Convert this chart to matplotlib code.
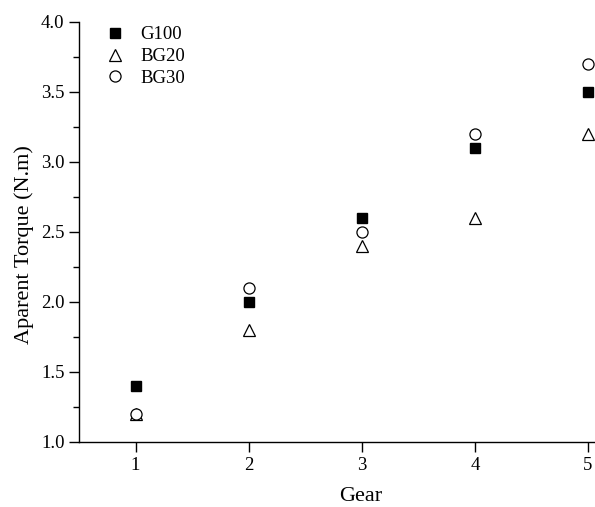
import numpy as np
import matplotlib
matplotlib.use("Agg")
import matplotlib.pyplot as plt
from matplotlib.ticker import MultipleLocator

plt.rcParams['font.family'] = ['Liberation Serif', 'DejaVu Serif']

gears = [1, 2, 3, 4, 5]
g100 = [1.4, 2.0, 2.6, 3.1, 3.5]
bg20 = [1.2, 1.8, 2.4, 2.6, 3.2]
bg30 = [1.2, 2.1, 2.5, 3.2, 3.7]

fig = plt.figure(figsize=(5.95, 5.07), dpi=100)
ax = fig.add_axes([79 / 595, 65 / 507, 1 - 79 / 595, 420 / 507])

ax.plot(gears, g100, 's', color='black', markersize=7, label='G100', clip_on=False)
ax.plot(gears, bg20, '^', mfc='white', mec='black', markersize=9, mew=0.9, label='BG20', clip_on=False)
ax.plot(gears, bg30, 'o', mfc='white', mec='black', markersize=8, mew=0.9, label='BG30', clip_on=False)

ax.set_xlim(0.5, 5.062)
ax.set_ylim(1.0, 4.0)
ax.xaxis.set_major_locator(MultipleLocator(1))
ax.yaxis.set_major_locator(MultipleLocator(0.5))
ax.yaxis.set_minor_locator(MultipleLocator(0.25))
ax.yaxis.set_major_formatter(plt.FormatStrFormatter('%.1f'))
ax.spines['top'].set_visible(False)
ax.spines['right'].set_visible(False)
ax.spines['left'].set_linewidth(1.0)
ax.spines['bottom'].set_linewidth(1.0)
ax.tick_params(direction='out', length=7, width=1.0, labelsize=13.5)
ax.tick_params(which='minor', direction='out', length=4, width=1.0)

ax.set_xlabel('Gear', fontsize=16)
ax.set_ylabel('Aparent Torque (N.m)', fontsize=16)
ax.xaxis.set_label_coords(0.545, -0.108)
ax.yaxis.set_label_coords(-0.088, 0.47)

ax.legend(loc='upper left', frameon=False, fontsize=13.5, handletextpad=0.6,
          bbox_to_anchor=(0.01, 1.03), labelspacing=0.25, handlelength=1.5)

fig.savefig('out.png', dpi=100)
